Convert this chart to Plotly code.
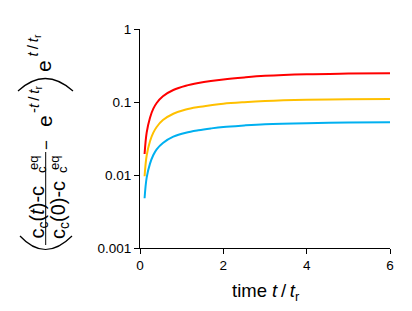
import plotly.graph_objects as go

# ---- data ----
t_vals = [0.11, 0.16, 0.24, 0.32, 0.40, 0.55, 0.8, 1.1, 1.4, 1.7, 2.0, 2.5, 3.0, 4.0, 5.0, 6.0]
red_vals = [0.0194, 0.038, 0.061, 0.081, 0.097, 0.120, 0.146, 0.167, 0.182, 0.194, 0.204, 0.217, 0.228, 0.240, 0.245, 0.248]
orange_vals = [0.0096, 0.0185, 0.029, 0.038, 0.0455, 0.0565, 0.069, 0.079, 0.0855, 0.0905, 0.095, 0.0995, 0.103, 0.107, 0.109, 0.110]
blue_vals = [0.0048, 0.0092, 0.0143, 0.0188, 0.0225, 0.0275, 0.0335, 0.038, 0.041, 0.0434, 0.0455, 0.0477, 0.0495, 0.0513, 0.0522, 0.0528]

x_ticks = [0, 2, 4, 6]
y_ticks = [0.001, 0.01, 0.1, 1]
y_tick_labels = ["0.001", "0.01", "0.1", "1"]

FONT = "Liberation Sans, Arial, sans-serif"
OFF = 8  # page body margin
W, H = 412 - OFF, 311 - OFF
L, R, T, B = 140 - OFF, 22, 29 - OFF, 63
PW, PH = W - L - R, H - T - B


# screen pixel -> paper coordinates
def px(x):
    return (x - OFF - L) / PW


def py(y):
    return (H - B - (y - OFF)) / PH


fig = go.Figure()
for vals, col in [(red_vals, "#FF0000"), (orange_vals, "#FFC000"), (blue_vals, "#00B0F0")]:
    fig.add_trace(go.Scatter(x=t_vals, y=vals, mode="lines",
                             line=dict(color=col, width=2, shape="spline", smoothing=1.0),
                             showlegend=False, hoverinfo="skip"))

fig.update_xaxes(range=[0, 6], tickvals=x_ticks, ticks="outside", ticklen=5,
                 tickcolor="black", showline=True, linecolor="black", linewidth=1,
                 showgrid=False, zeroline=False, tickfont=dict(size=13.5, color="black", family=FONT))
fig.update_yaxes(type="log", range=[-3, 0], tickvals=y_ticks, ticktext=y_tick_labels,
                 ticks="outside", ticklen=5, tickcolor="black", showline=True,
                 linecolor="black", linewidth=1, showgrid=False, zeroline=False,
                 tickfont=dict(size=13.5, color="black", family=FONT))

ann = []


def add_text(text, x, y, size, xanchor="center", yanchor="middle", angle=-90):
    ann.append(dict(text=text, x=px(x), y=py(y), xref="paper", yref="paper",
                    showarrow=False, textangle=angle, xanchor=xanchor, yanchor=yanchor,
                    font=dict(size=size, color="black", family=FONT)))


TS = "\u2009"
# x-axis title
add_text(f"time <i>t</i>{TS}/{TS}<i>t</i><sub>r</sub>", 266, 292, 18.5, angle=0)

# y-axis title pieces (rotated)
# numerator
add_text("c<sub>c</sub>(<i>t</i>)-c", 38, 241, 20, yanchor="bottom")
add_text("eq", 33, 163, 13)
add_text("c", 41, 170, 13)
# denominator
add_text("c<sub>c</sub>(0)-c", 59, 241, 20, yanchor="bottom")
add_text("eq", 54, 163, 13)
add_text("c", 62, 170, 13)
# minus
add_text("\u2212", 46, 145, 17)
# e^{-t/t_r}
add_text("e", 44, 121, 21)
add_text(f"-<i>t</i>{TS}/{TS}<i>t</i><sub>r</sub>", 34, 115, 15, yanchor="bottom")
# e^{t/t_r}
add_text("e", 43, 66, 21)
add_text(f"<i>t</i>{TS}/{TS}<i>t</i><sub>r</sub>", 33, 59, 15, yanchor="bottom")

shapes = [
    # fraction bar
    dict(type="line", xref="paper", yref="paper", x0=px(45.7), x1=px(45.7),
         y0=py(152), y1=py(245), line=dict(color="black", width=1)),
    # top parenthesis arc
    dict(type="path", xref="paper", yref="paper",
         path=f"M {px(18)} {py(91)} Q {px(45)} {py(66)} {px(73)} {py(91)}",
         line=dict(color="black", width=1.2)),
    # bottom parenthesis arc
    dict(type="path", xref="paper", yref="paper",
         path=f"M {px(20)} {py(236)} Q {px(45)} {py(263)} {px(72)} {py(236)}",
         line=dict(color="black", width=1.2)),
]

fig.update_layout(width=W, height=H, margin=dict(l=L, r=R, t=T, b=B),
                  paper_bgcolor="white", plot_bgcolor="white",
                  annotations=ann, shapes=shapes, font=dict(family=FONT, color="black"))

fig.write_html("out.html")
